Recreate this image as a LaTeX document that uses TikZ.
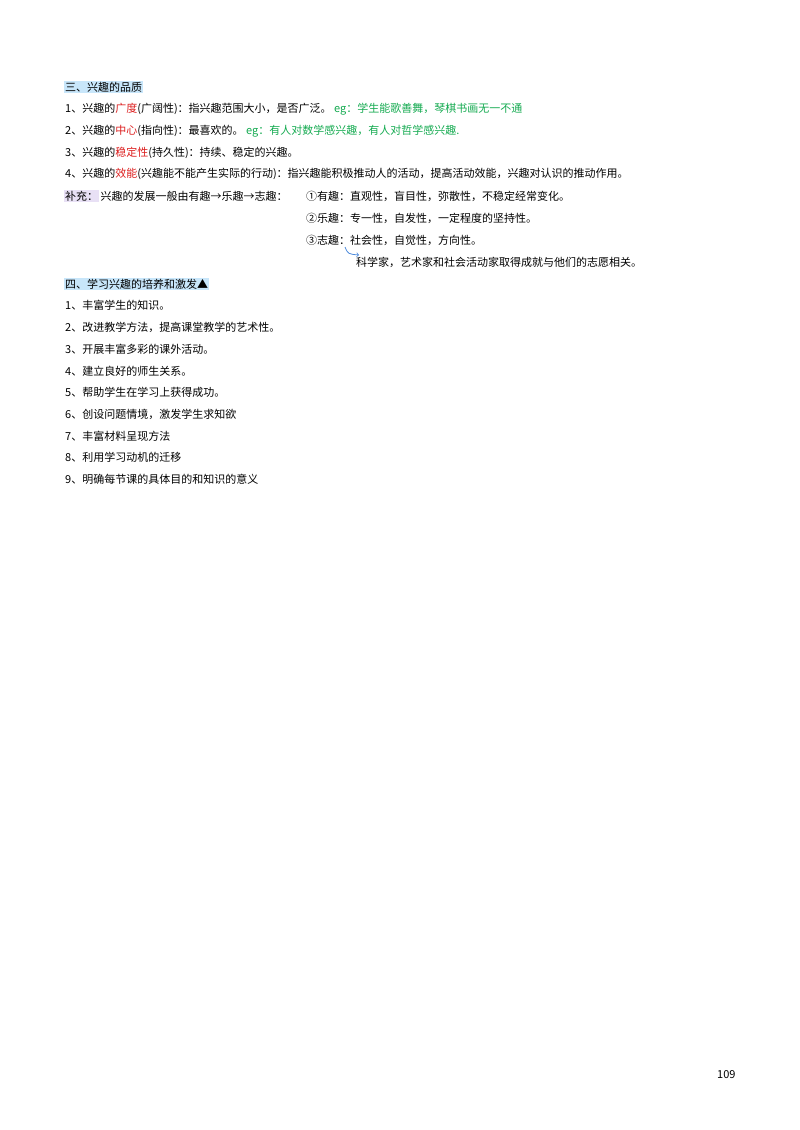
\documentclass[tikz,border=0pt]{standalone}
\usepackage{fontspec}
\newfontfamily\cjk{Noto Sans CJK SC}
\usetikzlibrary{positioning}
\definecolor{hired}{RGB}{220,30,30}
\definecolor{egreen}{RGB}{20,170,80}
\definecolor{headblue}{RGB}{200,230,250}
\definecolor{suplilac}{RGB}{232,224,245}
\definecolor{arrblue}{RGB}{80,140,220}
\tikzset{
  txt/.style={anchor=west,inner sep=1pt,font=\cjk\fontsize{11}{13}\selectfont},
  head/.style={txt,fill=headblue},
}
\begin{document}
\begin{tikzpicture}[x=1pt,y=-1pt]
\useasboundingbox (0,0) rectangle (800,1130);

% Section three
\node[head] (h3) at (64,87) {三、兴趣的品质};
\node[txt] (q1) at (64,109) {1、兴趣的\textcolor{hired}{广度}(广阔性)：指兴趣范围大小，是否广泛。 \textcolor{egreen}{eg：学生能歌善舞，琴棋书画无一不通}};
\node[txt] (q2) at (64,131) {2、兴趣的\textcolor{hired}{中心}(指向性)：最喜欢的。 \textcolor{egreen}{eg：有人对数学感兴趣，有人对哲学感兴趣.}};
\node[txt] (q3) at (64,153) {3、兴趣的\textcolor{hired}{稳定性}(持久性)：持续、稳定的兴趣。};
\node[txt] (q4) at (64,174) {4、兴趣的\textcolor{hired}{效能}(兴趣能不能产生实际的行动)：指兴趣能积极推动人的活动，提高活动效能，兴趣对认识的推动作用。};
\node[txt,fill=suplilac] (sup) at (64,196) {补充：};
\node[txt,right=0pt of sup] (dev) {兴趣的发展一般由有趣→乐趣→志趣：};
\node[txt] (s1) at (305,196) {①有趣：直观性，盲目性，弥散性，不稳定经常变化。};
\node[txt] (s2) at (305,218) {②乐趣：专一性，自发性，一定程度的坚持性。};
\node[txt] (s3) at (305,240) {③志趣：社会性，自觉性，方向性。};
\node[txt] (s4) at (355,262) {科学家，艺术家和社会活动家取得成就与他们的志愿相关。};
\draw[arrblue,thick,->] (345,247) .. controls (348,254) .. (359,255);

% Section four
\node[head] (h4) at (64,284) {四、学习兴趣的培养和激发▲};
\foreach \t [count=\i] in {丰富学生的知识。,改进教学方法，提高课堂教学的艺术性。,开展丰富多彩的课外活动。,建立良好的师生关系。,帮助学生在学习上获得成功。,创设问题情境，激发学生求知欲,丰富材料呈现方法,利用学习动机的迁移,明确每节课的具体目的和知识的意义}
  \node[txt] (p\i) at (64,{284+21.7*\i}) {\i、\t};

\node[txt] (pg) at (716,1075) {109};
\end{tikzpicture}
\end{document}
